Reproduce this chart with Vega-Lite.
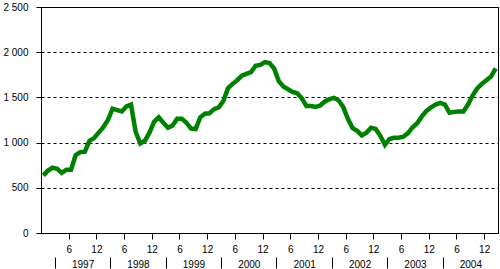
{
  "$schema": "https://vega.github.io/schema/vega-lite/v6.json",
  "width": 457,
  "height": 226,
  "autosize": "none",
  "padding": {"left": 41, "top": 7, "right": 2, "bottom": 36},
  "background": "white",
  "config": {
    "view": {"stroke": "black", "strokeWidth": 1},
    "axis": {"labelFont": "Liberation Sans", "labelFontSize": 10, "labelColor": "black", "domainColor": "black", "tickColor": "black"}
  },
  "data": {"values": [
    {"t":1,"v":637},{"t":2,"v":690},{"t":3,"v":722},{"t":4,"v":710},{"t":5,"v":665},{"t":6,"v":700},{"t":7,"v":700},{"t":8,"v":860},{"t":9,"v":895},{"t":10,"v":900},{"t":11,"v":1020},{"t":12,"v":1050},
    {"t":13,"v":1110},{"t":14,"v":1170},{"t":15,"v":1250},{"t":16,"v":1375},{"t":17,"v":1360},{"t":18,"v":1345},{"t":19,"v":1400},{"t":20,"v":1420},{"t":21,"v":1120},{"t":22,"v":990},{"t":23,"v":1020},{"t":24,"v":1110},
    {"t":25,"v":1230},{"t":26,"v":1280},{"t":27,"v":1220},{"t":28,"v":1165},{"t":29,"v":1190},{"t":30,"v":1265},{"t":31,"v":1265},{"t":32,"v":1220},{"t":33,"v":1155},{"t":34,"v":1150},{"t":35,"v":1280},{"t":36,"v":1320},
    {"t":37,"v":1325},{"t":38,"v":1370},{"t":39,"v":1390},{"t":40,"v":1460},{"t":41,"v":1600},{"t":42,"v":1650},{"t":43,"v":1690},{"t":44,"v":1740},{"t":45,"v":1760},{"t":46,"v":1780},{"t":47,"v":1850},{"t":48,"v":1860},
    {"t":49,"v":1890},{"t":50,"v":1880},{"t":51,"v":1820},{"t":52,"v":1680},{"t":53,"v":1620},{"t":54,"v":1590},{"t":55,"v":1560},{"t":56,"v":1545},{"t":57,"v":1490},{"t":58,"v":1405},{"t":59,"v":1405},{"t":60,"v":1395},
    {"t":61,"v":1410},{"t":62,"v":1455},{"t":63,"v":1480},{"t":64,"v":1495},{"t":65,"v":1465},{"t":66,"v":1390},{"t":67,"v":1260},{"t":68,"v":1160},{"t":69,"v":1130},{"t":70,"v":1080},{"t":71,"v":1110},{"t":72,"v":1165},
    {"t":73,"v":1150},{"t":74,"v":1075},{"t":75,"v":975},{"t":76,"v":1040},{"t":77,"v":1055},{"t":78,"v":1055},{"t":79,"v":1065},{"t":80,"v":1105},{"t":81,"v":1170},{"t":82,"v":1215},{"t":83,"v":1290},{"t":84,"v":1350},
    {"t":85,"v":1390},{"t":86,"v":1420},{"t":87,"v":1440},{"t":88,"v":1420},{"t":89,"v":1330},{"t":90,"v":1340},{"t":91,"v":1345},{"t":92,"v":1345},{"t":93,"v":1420},{"t":94,"v":1520},{"t":95,"v":1600},{"t":96,"v":1650},
    {"t":97,"v":1690},{"t":98,"v":1730},{"t":99,"v":1820}
  ]},
  "resolve": {"axis": {"x": "independent"}},
  "layer": [
    {
      "mark": {"type": "line", "color": "#008000", "strokeWidth": 4.5},
      "encoding": {
        "x": {"field": "t", "type": "quantitative", "scale": {"domain": [0.5, 99.5], "nice": false, "zero": false},
          "axis": {"title": null, "orient": "bottom", "grid": false, "values": [6.5,12.5,18.5,24.5,30.5,36.5,42.5,48.5,54.5,60.5,66.5,72.5,78.5,84.5,90.5,96.5],
            "labelExpr": "(datum.value - 0.5) % 12 == 0 ? '12' : '6'", "tickSize": 6, "labelPadding": 5, "labelFlush": false, "labelOverlap": false}},
        "y": {"field": "v", "type": "quantitative", "scale": {"domain": [0, 2500], "nice": false},
          "axis": {"title": null, "values": [0,500,1000,1500,2000,2500], "labelExpr": "replace(format(datum.value, ','), ',', ' ')",
            "tickSize": 5, "labelPadding": 8, "gridColor": "black", "gridDash": [3,3], "gridOpacity": 1, "labelFlush": false}}
      }
    },
    {
      "mark": {"type": "line", "strokeOpacity": 0},
      "encoding": {
        "x": {"field": "t", "type": "quantitative",
          "axis": {"title": null, "orient": "bottom", "grid": false, "domain": false, "offset": 24, "values": [3.5,15.5,27.5,39.5,51.5,63.5,75.5,87.5],
            "labelExpr": "'' + (1997 + (datum.value - 3.5) / 12)", "ticks": true, "tickColor": "black", "tickWidth": 1, "tickSize": 11, "labelOffset": 27.75, "labelPadding": -9, "labelFlush": false, "labelOverlap": false}},
        "y": {"field": "v", "type": "quantitative"}
      }
    }
  ]
}
